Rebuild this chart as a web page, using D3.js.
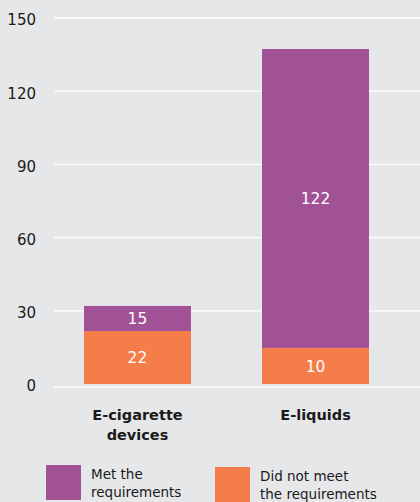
<!DOCTYPE html>
<html><head><meta charset="utf-8">
<script src="https://cdn.jsdelivr.net/npm/d3@7"></script>
<style>
html,body{margin:0;padding:0;background:#e6e7e9;}
svg{display:block;}
text{font-family:"DejaVu Sans",sans-serif;}
</style></head>
<body>
<svg id="chart" width="420" height="502"></svg>
<script>
// Data
const categories = ["E-cigarette devices", "E-liquids"];
const categoryLines = [["E-cigarette", "devices"], ["E-liquids"]];
const seriesNames = ["Did not meet the requirements", "Met the requirements"];
// bar heights as drawn in the picture (axis units)
const didNotMeet = [21.7, 14.8];
const met = [10.3, 122.5];
// numbers printed on the bars
const didNotMeetLabels = [22, 10];
const metLabels = [15, 122];
const yTicks = [0, 30, 60, 90, 120, 150];

const colors = {met: "#a15195", notMet: "#f47d4a"};

const svg = d3.select("#chart");
const x = d3.scaleBand().domain(categories).range([54, 399]).paddingInner(0.399).paddingOuter(0.1685);
const y = d3.scaleLinear().domain([0, 150]).range([384, 18]);

// gridlines
svg.append("g").selectAll("line").data(yTicks).join("line")
  .attr("x1", 54).attr("x2", 420)
  .attr("y1", d => d === 0 ? y(d) + 3 : y(d))
  .attr("y2", d => d === 0 ? y(d) + 3 : y(d))
  .attr("stroke", "#ffffff").attr("stroke-width", 1.3);

// y axis labels
const yAxis = d3.axisLeft(y).tickValues(yTicks).tickSize(0).tickPadding(0).tickFormat(d3.format("d"));
const ga = svg.append("g").attr("transform", "translate(36,2)").call(yAxis);
ga.select(".domain").remove();
ga.selectAll("text").attr("font-size", 15).attr("fill", "#1a1a1a")
  .attr("font-family", "DejaVu Sans, sans-serif");

// stacked data
const rows = categories.map((c, i) => ({cat: c, notMet: didNotMeet[i], met: met[i]}));
const stack = d3.stack().keys(["notMet", "met"])(rows);
const labelArr = {notMet: didNotMeetLabels, met: metLabels};

const layers = svg.append("g").selectAll("g").data(stack).join("g")
  .attr("fill", d => colors[d.key]);
layers.selectAll("rect").data(d => d.map(v => ({v, key: d.key}))).join("rect")
  .attr("x", d => x(d.v.data.cat))
  .attr("width", x.bandwidth())
  .attr("y", d => y(d.v[1]))
  .attr("height", d => y(d.v[0]) - y(d.v[1]));

// bar labels
svg.append("g").selectAll("g").data(stack).join("g")
  .selectAll("text").data(d => d.map((v, i) => ({v, key: d.key, i}))).join("text")
  .attr("x", d => x(d.v.data.cat) + x.bandwidth() / 2)
  .attr("y", d => (y(d.v[0]) + y(d.v[1])) / 2)
  .attr("dy", "0.36em")
  .attr("text-anchor", "middle")
  .attr("font-size", 15.5)
  .attr("fill", "#ffffff")
  .text(d => labelArr[d.key][d.i]);

// category labels
const cg = svg.append("g").selectAll("text").data(categories).join("text")
  .attr("x", d => x(d) + x.bandwidth() / 2)
  .attr("y", 420)
  .attr("text-anchor", "middle")
  .attr("font-size", 14.5)
  .attr("font-weight", "bold")
  .attr("fill", "#1a1a1a");
cg.selectAll("tspan").data((d, i) => categoryLines[i]).join("tspan")
  .attr("x", function() { return d3.select(this.parentNode).attr("x"); })
  .attr("dy", (d, i) => i === 0 ? 0 : 20)
  .text(d => d);

// legend
const legendItems = [
  {key: "met", lines: ["Met the", "requirements"], x: 46, y: 465},
  {key: "notMet", lines: ["Did not meet", "the requirements"], x: 215, y: 467}
];
const lg = svg.append("g").selectAll("g").data(legendItems).join("g")
  .attr("transform", d => `translate(${d.x},${d.y})`);
lg.append("rect").attr("width", 35).attr("height", 35).attr("fill", d => colors[d.key]);
lg.append("text").attr("x", 45).attr("y", 13.5).attr("font-size", 13.5).attr("fill", "#1a1a1a")
  .selectAll("tspan").data(d => d.lines).join("tspan")
  .attr("x", 45).attr("dy", (d, i) => i === 0 ? 0 : 18.5).text(d => d);
</script>
</body></html>
